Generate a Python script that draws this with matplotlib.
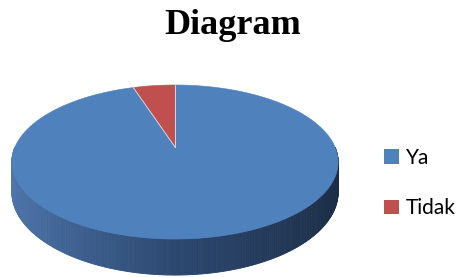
import numpy as np
import matplotlib
matplotlib.use("Agg")
import matplotlib.pyplot as plt
from matplotlib.patches import Polygon, Patch

# ---- data ----
title = "Diagram"
categories = ["Ya", "Tidak"]
values = [95, 5]
colors = ["#4F81BD", "#C0504D"]

W, H = 467, 278
fig = plt.figure(figsize=(W / 100, H / 100), dpi=100)
ax = fig.add_axes([0, 0, 1, 1])
ax.set_xlim(0, W)
ax.set_ylim(H, 0)
ax.axis("off")

# perspective-projected disc geometry (pixel space)
cx, cy = 175.0, 147.0
A, B, k, D = 160.0, 74.1, 0.195, 29.0


def proj(phi, depth=0.0):
    u = np.cos(phi)
    v = -np.sin(phi)
    w = 1 - k * v
    return cx + A * u / w, cy + (B * v + depth) / w


# side wall (front half only), shaded from left to right
n = 240
phis = np.linspace(np.pi, 2 * np.pi, n + 1)
c_left = np.array([80, 120, 175]) / 255
c_mid = np.array([44, 72, 112]) / 255
c_right = np.array([27, 44, 68]) / 255
for i in range(n):
    p0, p1 = phis[i], phis[i + 1]
    x0t, y0t = proj(p0)
    x1t, y1t = proj(p1)
    x0b, y0b = proj(p0, D)
    x1b, y1b = proj(p1, D)
    t = (np.cos((p0 + p1) / 2) + 1) / 2
    if t < 0.5:
        col = c_left + (c_mid - c_left) * (t / 0.5)
    else:
        col = c_mid + (c_right - c_mid) * ((t - 0.5) / 0.5)
    ax.add_patch(Polygon([(x0t, y0t), (x1t, y1t), (x1b, y1b), (x0b, y0b)],
                         closed=True, facecolor=col, edgecolor=col,
                         linewidth=0.6, zorder=1))

# top face wedges: start at 12 o'clock, clockwise
total = float(sum(values))
start = np.pi / 2
for val, col in zip(values, colors):
    sweep = 2 * np.pi * val / total
    arc = np.linspace(start, start - sweep, max(int(400 * val / total), 8))
    xs, ys = proj(arc)
    pts = [(cx, cy)] + list(zip(xs, ys))
    ax.add_patch(Polygon(pts, closed=True, facecolor=col, edgecolor=col,
                         linewidth=0.4, zorder=2))
    # light separator along the radius
    ax.plot([cx, xs[0]], [cy, ys[0]], color="#dfe7f2", lw=0.6, zorder=3)
    start -= sweep

# title
ax.text(233, 26, title, ha="center", va="center", fontsize=26,
        fontweight="bold", family="Liberation Serif", color="black")

# legend
handles = [Patch(facecolor=c, edgecolor="none") for c in colors]
leg = ax.legend(handles, categories, loc="upper left",
                bbox_to_anchor=(384 / W, 1 - 148 / H),
                frameon=False, borderpad=0, borderaxespad=0,
                handlelength=0.72, handleheight=0.72, handletextpad=0.34,
                labelspacing=1.45, prop={"family": "Lato", "size": 15})

fig.savefig("out.png", dpi=100)
